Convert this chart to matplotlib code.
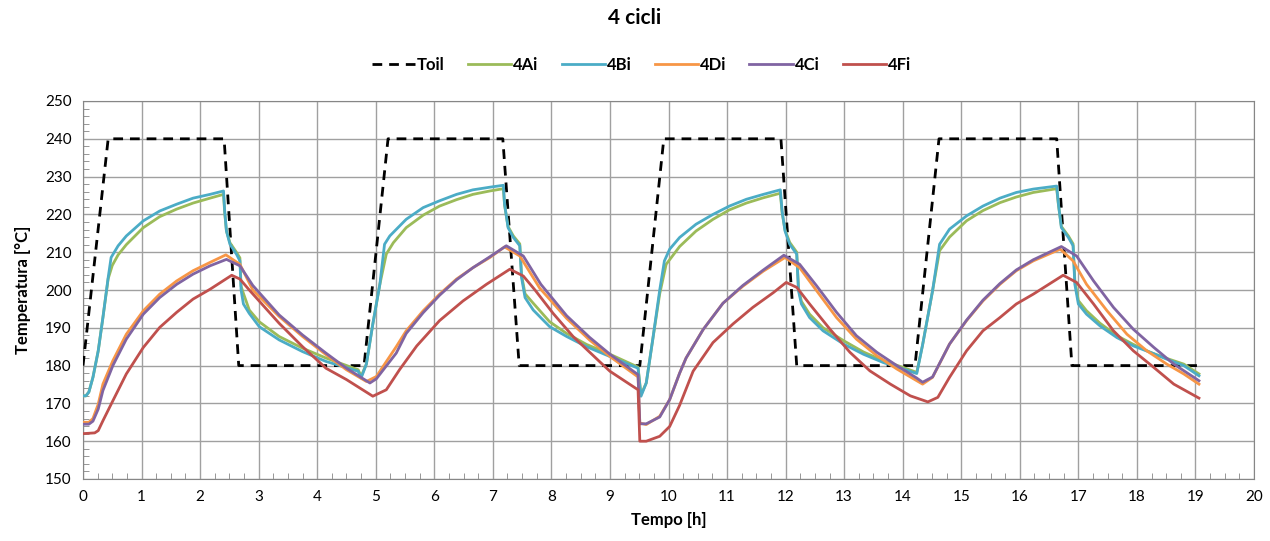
import numpy as np
import matplotlib
matplotlib.use("Agg")
import matplotlib.pyplot as plt
from matplotlib.ticker import MultipleLocator

plt.rcParams['font.family'] = ['Lato', 'DejaVu Sans']

# oil temperature set profile
toil_t = [0, 0.43, 2.41, 2.66, 4.80, 5.21, 7.17, 7.45, 9.51, 9.92,
          11.92, 12.19, 14.21, 14.62, 16.63, 16.89, 19.04]
toil_v = [180, 240, 240, 180, 180, 240, 240, 180, 180, 240,
          240, 180, 180, 240, 240, 180, 180]

# (time [h], temperature [C])
bi_pts = [(0.00, 172.0), (0.05, 172.0), (0.10, 173.0), (0.17, 176.9), (0.26, 183.9), (0.34, 192.7),
          (0.43, 203.3), (0.48, 208.6), (0.60, 211.7), (0.74, 214.3), (1.03, 218.3), (1.31, 220.9),
          (1.60, 222.7), (1.88, 224.3), (2.17, 225.3), (2.40, 226.2), (2.42, 220.9), (2.45, 215.6),
          (2.51, 212.1), (2.62, 209.5), (2.68, 207.7), (2.70, 200.0), (2.74, 196.3), (2.84, 193.8),
          (3.01, 190.3), (3.35, 186.8), (3.75, 183.7), (4.15, 181.1), (4.70, 178.5), (4.75, 176.7),
          (4.84, 180.4), (4.95, 191.0), (5.07, 201.5), (5.15, 212.1), (5.24, 214.3), (5.52, 218.7),
          (5.81, 221.8), (6.09, 223.6), (6.38, 225.3), (6.66, 226.5), (6.95, 227.2), (7.18, 227.7),
          (7.20, 222.7), (7.26, 216.5), (7.35, 213.9), (7.46, 211.7), (7.49, 203.3), (7.55, 198.0),
          (7.69, 194.7), (7.97, 190.3), (8.26, 187.7), (8.60, 185.0), (9.00, 182.4), (9.48, 179.3),
          (9.53, 171.9), (9.62, 175.4), (9.73, 186.8), (9.85, 200.0), (9.93, 207.7), (10.02, 210.8),
          (10.19, 213.9), (10.47, 217.4), (10.76, 220.0), (11.04, 222.2), (11.33, 224.0), (11.62, 225.3),
          (11.91, 226.5), (11.94, 220.9), (11.99, 215.6), (12.07, 212.1), (12.19, 209.5), (12.22, 199.8),
          (12.27, 196.3), (12.41, 192.7), (12.64, 189.2), (12.99, 185.7), (13.33, 183.0), (13.67, 180.8),
          (14.01, 179.1), (14.24, 177.9), (14.34, 185.5), (14.51, 199.8), (14.63, 212.1), (14.80, 216.1),
          (15.09, 219.6), (15.37, 222.2), (15.66, 224.3), (15.94, 225.8), (16.23, 226.7), (16.63, 227.5),
          (16.66, 222.7), (16.71, 216.5), (16.83, 213.9), (16.91, 211.7), (16.94, 201.5), (17.00, 196.3),
          (17.14, 193.6), (17.37, 190.5), (17.66, 187.4), (17.94, 185.2), (18.23, 183.5), (18.51, 181.7),
          (18.80, 180.0), (19.06, 177.3)]

ai_pts = [(0.00, 172.0), (0.05, 172.0), (0.10, 173.0), (0.17, 176.9), (0.26, 183.9), (0.34, 192.7),
          (0.43, 203.0), (0.50, 206.5), (0.60, 209.3), (0.74, 212.0), (1.03, 216.5), (1.31, 219.4),
          (1.60, 221.4), (1.88, 223.0), (2.17, 224.3), (2.40, 225.3), (2.42, 220.5), (2.45, 215.6),
          (2.51, 212.5), (2.62, 210.0), (2.68, 208.5), (2.70, 201.0), (2.74, 199.1), (2.84, 194.7),
          (3.01, 191.6), (3.35, 187.7), (3.75, 184.6), (4.15, 182.0), (4.70, 178.9), (4.75, 177.2),
          (4.84, 180.4), (4.95, 191.0), (5.07, 201.5), (5.18, 209.5), (5.30, 212.5), (5.52, 216.5),
          (5.81, 219.8), (6.09, 222.2), (6.38, 223.9), (6.66, 225.3), (6.95, 226.2), (7.18, 226.8),
          (7.20, 222.5), (7.26, 216.8), (7.35, 214.3), (7.46, 212.2), (7.49, 204.0), (7.55, 199.0),
          (7.69, 196.5), (7.97, 191.6), (8.26, 188.5), (8.60, 185.6), (9.00, 183.0), (9.48, 179.6),
          (9.53, 172.3), (9.62, 175.4), (9.73, 186.8), (9.85, 199.0), (9.96, 206.8), (10.19, 211.5),
          (10.47, 215.6), (10.76, 218.7), (11.04, 221.2), (11.33, 223.0), (11.62, 224.4), (11.91, 225.6),
          (11.94, 220.5), (11.99, 215.9), (12.07, 212.6), (12.19, 210.0), (12.22, 200.5), (12.27, 197.0),
          (12.41, 193.6), (12.64, 190.0), (12.99, 186.6), (13.33, 183.6), (13.67, 181.3), (14.01, 179.5),
          (14.24, 178.2), (14.34, 185.5), (14.51, 199.8), (14.63, 210.4), (14.80, 214.0), (15.09, 218.3),
          (15.37, 221.0), (15.66, 223.1), (15.94, 224.6), (16.23, 225.8), (16.63, 226.8), (16.66, 222.5),
          (16.71, 216.8), (16.83, 214.3), (16.91, 212.2), (16.94, 202.5), (17.00, 197.2), (17.14, 194.5),
          (17.37, 191.2), (17.66, 187.9), (17.94, 185.6), (18.23, 183.5), (18.51, 181.9), (18.80, 180.4),
          (19.06, 177.8)]

di_pts = [(0.00, 165.0), (0.10, 165.0), (0.17, 166.0), (0.26, 169.8), (0.34, 175.1), (0.51, 181.3),
          (0.74, 188.3), (1.03, 194.5), (1.31, 198.9), (1.60, 202.4), (1.88, 205.1), (2.17, 207.3),
          (2.44, 209.3), (2.68, 206.8), (2.90, 200.0), (3.35, 193.0), (3.75, 187.7), (4.15, 182.9),
          (4.50, 178.9), (4.84, 175.8), (5.01, 177.1), (5.35, 185.0), (5.52, 189.2), (5.81, 194.5),
          (6.09, 198.9), (6.38, 202.9), (6.66, 205.9), (6.95, 208.6), (7.20, 211.4), (7.46, 209.0),
          (7.80, 200.5), (8.26, 192.5), (8.65, 186.8), (9.00, 182.4), (9.48, 177.0), (9.51, 164.8),
          (9.62, 164.4), (9.85, 166.6), (10.02, 171.0), (10.19, 178.0), (10.30, 182.0), (10.59, 189.5),
          (10.93, 196.5), (11.27, 201.0), (11.62, 205.0), (11.99, 208.6), (12.24, 205.9), (12.53, 199.8),
          (12.87, 192.7), (13.21, 187.0), (13.56, 182.6), (13.90, 179.1), (14.24, 176.0), (14.34, 175.1),
          (14.51, 176.9), (14.80, 185.7), (15.09, 191.9), (15.37, 197.1), (15.66, 201.5), (15.94, 205.1),
          (16.23, 207.7), (16.69, 210.8), (16.91, 207.7), (17.14, 201.5), (17.49, 194.5), (17.83, 188.3),
          (18.17, 183.9), (18.51, 180.4), (18.80, 177.8), (19.06, 175.1)]

ci_pts = [(0.00, 164.5), (0.10, 164.5), (0.17, 165.3), (0.26, 168.5), (0.34, 173.4), (0.51, 180.0),
          (0.74, 187.0), (1.03, 193.6), (1.31, 198.0), (1.60, 201.5), (1.88, 204.2), (2.17, 206.4),
          (2.45, 208.1), (2.68, 206.4), (2.90, 201.2), (3.35, 193.4), (3.75, 188.1), (4.15, 183.3),
          (4.50, 179.3), (4.90, 175.4), (5.01, 176.5), (5.35, 183.3), (5.52, 188.5), (5.81, 194.0),
          (6.09, 198.6), (6.38, 202.7), (6.66, 205.9), (6.95, 208.8), (7.23, 211.7), (7.52, 209.0),
          (7.82, 201.5), (8.26, 193.2), (8.65, 187.5), (9.00, 183.0), (9.48, 177.6), (9.51, 164.6),
          (9.62, 164.6), (9.85, 166.4), (10.02, 171.0), (10.19, 178.0), (10.30, 182.0), (10.59, 189.5),
          (10.93, 196.5), (11.27, 201.2), (11.62, 205.3), (11.97, 209.2), (12.24, 206.8), (12.53, 201.1),
          (12.87, 194.1), (13.21, 187.9), (13.56, 183.5), (13.90, 180.0), (14.24, 176.7), (14.34, 175.6),
          (14.51, 177.0), (14.80, 185.7), (15.09, 192.0), (15.37, 197.3), (15.66, 201.7), (15.94, 205.3),
          (16.23, 208.0), (16.71, 211.5), (16.97, 209.0), (17.26, 202.4), (17.60, 195.4), (17.94, 189.6),
          (18.29, 184.8), (18.63, 180.4), (19.06, 176.0)]

fi_pts = [(0.00, 162.0), (0.20, 162.2), (0.26, 162.8), (0.34, 165.4), (0.51, 170.7), (0.74, 177.8),
          (1.03, 184.8), (1.31, 190.1), (1.60, 194.1), (1.88, 197.6), (2.17, 200.2), (2.54, 203.9),
          (2.68, 202.9), (2.84, 200.0), (3.35, 191.2), (3.75, 185.0), (4.15, 179.3), (4.50, 176.3),
          (4.95, 171.9), (5.18, 173.6), (5.41, 179.0), (5.70, 185.2), (6.09, 191.9), (6.49, 197.1),
          (6.89, 201.5), (7.29, 205.5), (7.52, 203.7), (7.72, 200.0), (8.03, 193.8), (8.37, 187.7),
          (8.82, 181.1), (9.00, 178.5), (9.48, 173.6), (9.51, 160.0), (9.62, 160.0), (9.85, 161.3),
          (10.02, 163.9), (10.19, 169.5), (10.42, 178.5), (10.76, 186.1), (11.10, 191.0), (11.44, 195.4),
          (11.79, 199.3), (12.01, 202.0), (12.19, 200.7), (12.41, 196.3), (12.76, 189.6), (13.10, 183.5),
          (13.44, 178.6), (13.79, 175.1), (14.13, 172.0), (14.43, 170.4), (14.60, 171.6), (14.80, 176.9),
          (15.09, 183.9), (15.37, 189.2), (15.66, 192.7), (15.94, 196.3), (16.23, 198.9), (16.74, 203.9),
          (16.97, 202.0), (17.26, 196.3), (17.60, 189.2), (17.94, 183.9), (18.29, 179.5), (18.63, 175.1),
          (19.06, 171.4)]

series = [('4Ai', ai_pts, '#9BBB59'),
          ('4Bi', bi_pts, '#4BACC6'),
          ('4Di', di_pts, '#F79646'),
          ('4Ci', ci_pts, '#8064A2'),
          ('4Fi', fi_pts, '#C0504D')]

fig = plt.figure(figsize=(12.7, 5.41), dpi=100)
ax = fig.add_axes([83 / 1270, 1 - 479 / 541, (1254 - 83) / 1270, (479 - 101) / 541])

ax.plot(toil_t, toil_v, color='black', lw=2, dashes=(3.5, 2.5), label='Toil', zorder=3)
for name, pts, col in series:
    arr = np.array(pts)
    ax.plot(arr[:, 0], arr[:, 1], color=col, lw=2, label=name, zorder=3,
            solid_joinstyle='round')

ax.set_xlim(0, 20)
ax.set_ylim(150, 250)
ax.xaxis.set_major_locator(MultipleLocator(1))
ax.xaxis.set_minor_locator(MultipleLocator(0.25))
ax.yaxis.set_major_locator(MultipleLocator(10))
ax.yaxis.set_minor_locator(MultipleLocator(2))
ax.tick_params(which='major', length=0, labelsize=11, pad=8)
ax.tick_params(which='minor', direction='in', length=4, color='#868686')
ax.grid(which='major', color='#A0A0A0', lw=1)
for s in ax.spines.values():
    s.set_color('#868686')

ax.set_xlabel('Tempo [h]', fontsize=12, fontweight='bold', labelpad=6)
ax.set_ylabel('Temperatura [°C]', fontsize=12, fontweight='bold', labelpad=10)
fig.suptitle('4 cicli', fontsize=15, fontweight='bold', y=0.985)
fig.legend(loc='center', bbox_to_anchor=(0.505, 0.88), ncol=6, frameon=False,
           prop={'size': 12, 'weight': 'bold'}, handlelength=2.6, columnspacing=1.4,
           handletextpad=0.1)

fig.savefig('out.png', dpi=100)
